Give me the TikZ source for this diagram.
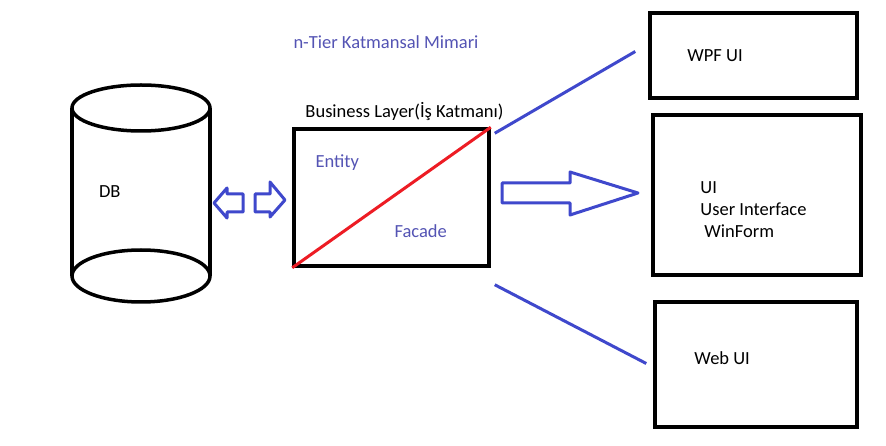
\documentclass[tikz,border=0pt]{standalone}
\usepackage{fontspec}
\setmainfont{Carlito}
\usetikzlibrary{shapes, arrows, positioning}
\definecolor{PaintBlue}{HTML}{3F48CC}
\definecolor{TextBlue}{HTML}{5454B4}
\definecolor{PaintRed}{HTML}{ED1C24}

\begin{document}
\begin{tikzpicture}[x=1pt, y=-1pt,
			every node/.style={font=\fontsize{18.5}{22}\selectfont, inner sep=0pt},
			layer/.style={draw, line width=3.5pt, rectangle},
			bluetext/.style={text=TextBlue},
			hollow/.style={draw=PaintBlue, line width=3pt, line join=round},
			link/.style={draw=PaintBlue, line width=3pt}
		]
			\fill[white] (0,0) rectangle (886,446);
			\useasboundingbox (0,0) rectangle (886,446);

			\node (title) [bluetext] at (386,42) {n-Tier Katmansal Mimari};

			% database
			\node (db) [minimum width=138pt, minimum height=168pt] at (141,192) {};
			\draw[line width=3.5pt] (141,108) ellipse [x radius=69pt, y radius=23pt];
			\draw[line width=3.5pt] (141,276) ellipse [x radius=69pt, y radius=26pt];
			\draw[line width=3.5pt] (72,108) -- (72,276) (210,108) -- (210,276);
			\node (dbLabel) [right=27pt of db.west] {DB};

			% hollow arrows
			\draw[hollow] (214,203) -- (227,188) -- (227,194) -- (243,194) -- (243,212) -- (227,212) -- (227,218) -- cycle;
			\draw[hollow] (285,200) -- (270,182) -- (270,194) -- (255,194) -- (255,212) -- (270,212) -- (270,217) -- cycle;
			\draw[hollow] (638,193) -- (570,172) -- (570,183) -- (502,183) -- (502,203) -- (570,203) -- (570,215) -- cycle;

			% business layer
			\node (business) [layer, minimum width=195pt, minimum height=137pt] at (391.5,197.5) {};
			\node (businessLabel) [above=6pt of business.north, xshift=13pt] {Business Layer(İş Katmanı)};
			\draw[PaintRed, line width=3pt] (business.south west) -- (business.north east);
			\node (entity) [bluetext] at ([shift={(45pt,-35pt)}]business.north west) {Entity};
			\node (facade) [bluetext] at ([shift={(-70pt,37pt)}]business.south east) {Facade};

			% user interfaces
			\node (wpf) [layer, minimum width=207pt, minimum height=85pt] at (753.5,55.5) {};
			\node (wpfLabel) [right=39pt of wpf.west] {WPF UI};
			\node (ui) [layer, minimum width=208pt, minimum height=160pt] at (757,195) {};
			\node (uiLabel) [right=49pt of ui.west, yshift=-15pt, align=left] {UI\\User Interface\\\hspace{4pt}WinForm};
			\node (web) [layer, minimum width=202pt, minimum height=125pt] at (756,364.5) {};
			\node (webLabel) [right=41pt of web.west, yshift=6pt] {Web UI};

			\coordinate (bizTop) at ([shift={(4pt,-6pt)}]business.north east);
			\coordinate (bizBottom) at ([shift={(4pt,-17pt)}]business.south east);
			\coordinate (wpfEnd) at ([shift={(-13pt,4pt)}]wpf.west);
			\coordinate (webEnd) at ([shift={(-7pt,1pt)}]web.west);
			\draw[link] (bizTop) -- (wpfEnd);
			\draw[link] (bizBottom) -- (webEnd);
		\end{tikzpicture}
\end{document}
